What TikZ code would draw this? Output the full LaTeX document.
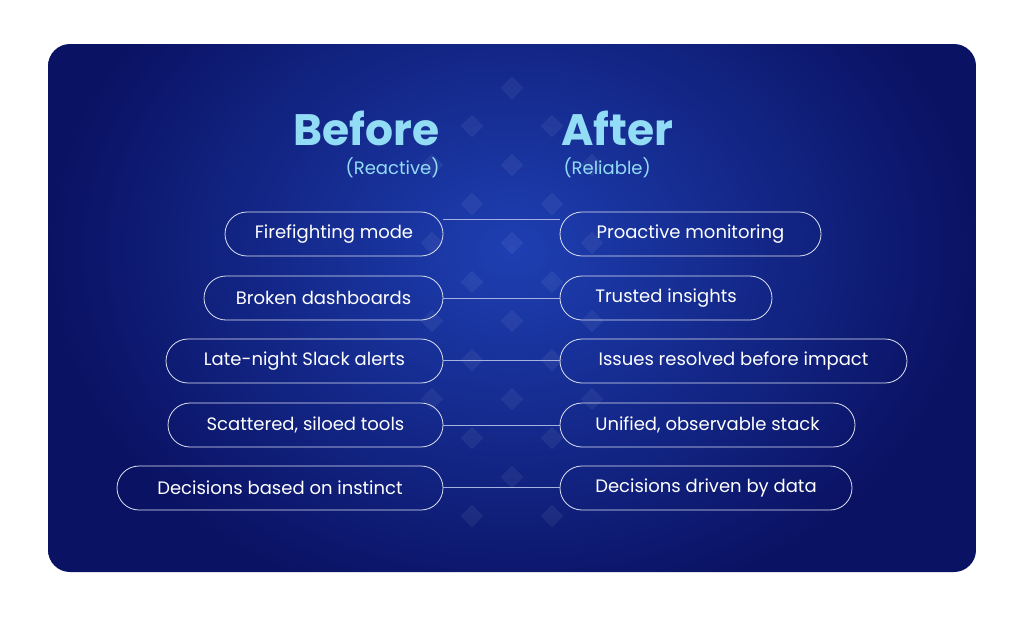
\documentclass[tikz,border=0pt]{standalone}
\usepackage{fontspec}
\setmainfont{Poppins}
\definecolor{bgdark}{HTML}{0A1263}
\definecolor{bgmid}{HTML}{1E3FB2}
\definecolor{ttl}{HTML}{92DDF5}
\tikzset{
  pill/.style={draw=white!85!bgmid, line width=0.8pt, rounded corners=22pt, minimum height=44pt, inner sep=0pt, text=white, font=\fontsize{18}{20}\selectfont},
  link/.style={draw=white!60!bgmid, line width=0.7pt},
  dia/.style={fill=white, fill opacity=0.06, draw=none, minimum size=16pt, rotate=45, inner sep=0pt}
}
\begin{document}
\begin{tikzpicture}[x=1pt,y=-1pt]
\useasboundingbox (0,0) rectangle (1024,616);
\fill[white] (0,0) rectangle (1024,616);
\begin{scope}
\clip[rounded corners=22pt] (48,44) rectangle (976,572);
\shade[inner color=bgmid, outer color=bgdark] (48,-120) rectangle (976,620);
\end{scope}
% diamond pattern
\foreach \x/\y in {512/88,472/126,552/126,512/165,472/204,552/204,432/243,512/243,592/243,472/282,552/282,432/321,512/321,592/321,472/360,552/360,512/399,472/438,552/438,512/477,472/516,552/516,432/165,592/165,432/399,592/399}
  \node[dia] at (\x,\y) {};
% titles
\node[anchor=base east, text=ttl, font=\fontsize{44}{48}\bfseries\selectfont] (tb) at (443,145) {Before};
\node[anchor=base east, text=ttl, font=\fontsize{18}{20}\selectfont] (sb) at (443,174) {(Reactive)};
\node[anchor=base west, text=ttl, font=\fontsize{44}{48}\bfseries\selectfont] (ta) at (558,145) {After};
\node[anchor=base west, text=ttl, font=\fontsize{18}{20}\selectfont] (sa) at (560,174) {(Reliable)};
% left pills
\node[pill, minimum width=218pt] (l1) at (334,234) {Firefighting mode};
\node[pill, minimum width=239pt] (l2) at (323.5,298) {Broken dashboards};
\node[pill, minimum width=277pt] (l3) at (304.5,361) {Late-night Slack alerts};
\node[pill, minimum width=275pt] (l4) at (305.5,425) {Scattered, siloed tools};
\node[pill, minimum width=326pt] (l5) at (280,488) {Decisions based on instinct};
% right pills
\node[pill, minimum width=261pt] (r1) at (690.5,234) {Proactive monitoring};
\node[pill, minimum width=212pt] (r2) at (666,298) {Trusted insights};
\node[pill, minimum width=347pt] (r3) at (733.5,361) {Issues resolved before impact};
\node[pill, minimum width=295pt] (r4) at (707.5,425) {Unified, observable stack};
\node[pill, minimum width=292pt] (r5) at (706,488) {Decisions driven by data};
% links
\draw[link] ([yshift=15pt]l1.east) -- ([yshift=15pt]r1.west);
\draw[link] (l2.east) -- (r2.west);
\draw[link] ([yshift=1pt]l3.east) -- ([yshift=1pt]r3.west);
\draw[link] (l4.east) -- (r4.west);
\draw[link] ([yshift=1pt]l5.east) -- ([yshift=1pt]r5.west);
\end{tikzpicture}
\end{document}
